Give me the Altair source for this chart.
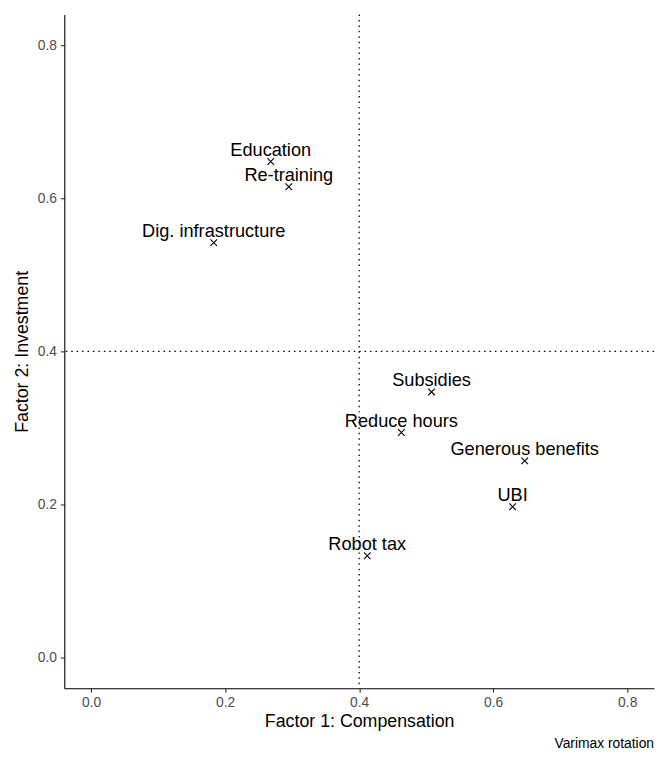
import altair as alt
import pandas as pd

policies = ["Education", "Re-training", "Dig. infrastructure", "Subsidies",
            "Reduce hours", "Generous benefits", "UBI", "Robot tax"]
factor1 = [0.268, 0.295, 0.183, 0.508, 0.463, 0.647, 0.629, 0.412]
factor2 = [0.648, 0.615, 0.542, 0.347, 0.294, 0.257, 0.197, 0.133]
x_ticks = [0.0, 0.2, 0.4, 0.6, 0.8]
y_ticks = [0.0, 0.2, 0.4, 0.6, 0.8]
ref_value = [0.4]

df = pd.DataFrame({"policy": policies, "f1": factor1, "f2": factor2})
ref = pd.DataFrame({"v": ref_value})

FONT = "Liberation Sans"
xscale = alt.Scale(domain=[-0.04, 0.84], nice=False, zero=False)
yscale = alt.Scale(domain=[-0.04, 0.84], nice=False, zero=False)

xaxis = alt.Axis(values=x_ticks, format=".1f", grid=False, domain=True,
                 domainColor="black", domainWidth=1.1, tickColor="#333333",
                 tickSize=4, tickWidth=1.1, labelColor="#4D4D4D", labelFontSize=14,
                 labelFont=FONT, labelPadding=4, title="Factor 1: Compensation",
                 titleFont=FONT, titleFontSize=18, titleFontWeight="normal",
                 titleColor="black", titlePadding=3, labelFlush=False)
yaxis = alt.Axis(values=y_ticks, format=".1f", grid=False, domain=True,
                 domainColor="black", domainWidth=1.1, tickColor="#333333",
                 tickSize=4, tickWidth=1.1, labelColor="#4D4D4D", labelFontSize=14,
                 labelFont=FONT, labelPadding=4, title="Factor 2: Investment",
                 titleFont=FONT, titleFontSize=18, titleFontWeight="normal",
                 titleColor="black", titlePadding=6, labelFlush=False)

points = alt.Chart(df).mark_point(
    shape="M-1,-1L1,1M-1,1L1,-1", size=45, stroke="black", strokeWidth=1.1,
    filled=False, opacity=1
).encode(
    x=alt.X("f1:Q", scale=xscale, axis=xaxis),
    y=alt.Y("f2:Q", scale=yscale, axis=yaxis),
)

labels = alt.Chart(df).mark_text(
    font=FONT, fontSize=18.4, color="black", align="center",
    baseline="alphabetic", dy=-6
).encode(
    x=alt.X("f1:Q", scale=xscale),
    y=alt.Y("f2:Q", scale=yscale),
    text="policy:N",
)

vline = alt.Chart(ref).mark_rule(
    color="black", strokeDash=[1.5, 4], strokeWidth=1.3
).encode(x=alt.X("v:Q", scale=xscale))

hline = alt.Chart(ref).mark_rule(
    color="black", strokeDash=[1.5, 4], strokeWidth=1.3
).encode(y=alt.Y("v:Q", scale=yscale))

caption = alt.Chart(pd.DataFrame({"t": ["Varimax rotation"]})).mark_text(
    font=FONT, fontSize=14, color="black", align="right", baseline="alphabetic"
).encode(
    x=alt.value(597), y=alt.value(743), text="t:N"
)

chart = alt.layer(vline, hline, points, labels, caption).properties(
    width=597, height=682,
    autosize=alt.AutoSizeParams(type="none"),
    padding={"left": 57, "top": 2, "right": 2, "bottom": 63},
).configure(background="white", view=alt.ViewConfig(stroke=None))

chart.save("out.html", embed_options={"renderer": "svg", "actions": False})
